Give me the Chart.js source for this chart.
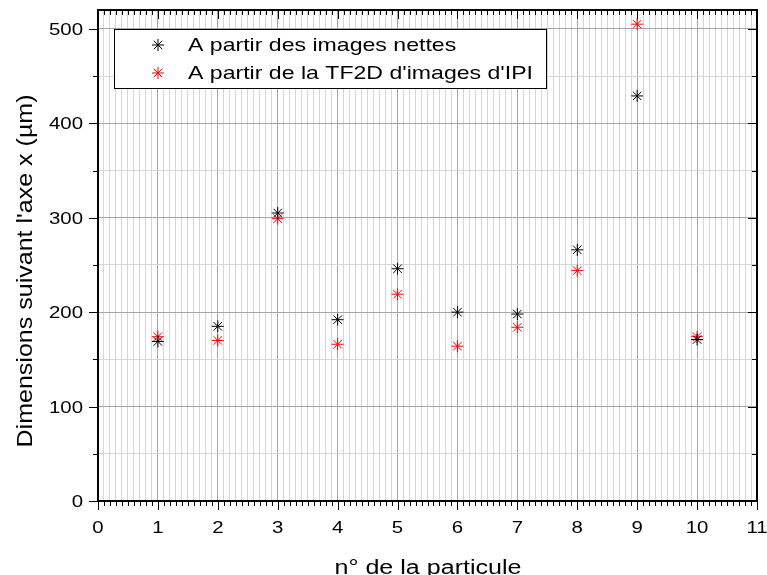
<!DOCTYPE html>
<html>
<head>
<meta charset="utf-8">
<script src="https://cdn.jsdelivr.net/npm/chart.js@4/dist/chart.umd.min.js"></script>
<style>
  html, body { margin: 0; padding: 0; background: #fff; }
</style>
</head>
<body>
<canvas id="myChart" width="767" height="575"></canvas>
<script>
const particles = [1, 2, 3, 4, 5, 6, 7, 8, 9, 10]
const netValues = [169, 185, 305, 192, 246, 200, 198, 266, 429, 171]
const ipiValues = [174, 170, 299, 166, 219, 164, 184, 244, 505, 174]
const xTickLabels = ['0', '1', '2', '3', '4', '5', '6', '7', '8', '9', '10', '11']
const yTickLabels = ['0', '100', '200', '300', '400', '500']
const seriesLabels = ["A partir des images nettes", "A partir de la TF2D d'images d'IPI"]
const seriesColors = ["#000000", "#ff0000"]
const xTitle = 'n° de la particule'
const yTitle = "Dimensions suivant l'axe x (µm)"

const chart = document.getElementById('myChart')
const FONT = "'Liberation Sans', Arial, sans-serif"
const STRETCH = 1.2

function toPoints(values) {
    let pts = []
    for (let i = 0; i < particles.length; i++) {
        pts.push({x: particles[i], y: values[i]})
    }
    return pts
}

function isWhole(v, step) {
    return Math.abs(v / step - Math.round(v / step)) < 1e-6
}

// text drawn a bit wider than the font, like the original export
function drawText(ctx, text, x, y, size, align, sx) {
    ctx.save()
    ctx.font = size + 'px ' + FONT
    ctx.textBaseline = 'alphabetic'
    ctx.fillStyle = '#000'
    const w = ctx.measureText(text).width * sx
    let left = x
    if (align === 'center') left = x - w / 2
    if (align === 'right') left = x - w
    ctx.translate(left, y)
    ctx.scale(sx, 1)
    ctx.fillText(text, 0, 0)
    ctx.restore()
}

const framePlugin = {
    id: 'frame',
    afterDraw(c) {
        const ctx = c.ctx
        const a = c.chartArea
        const xs = c.scales.x
        const ys = c.scales.y
        ctx.save()
        ctx.strokeStyle = '#000'
        ctx.lineWidth = 1
        ctx.beginPath()
        xs.ticks.forEach(t => {
            const px = Math.round(xs.getPixelForValue(t.value)) + 0.5
            const len = isWhole(t.value, 1) ? 9 : 5
            ctx.moveTo(px, a.bottom)
            ctx.lineTo(px, a.bottom + len)
            ctx.moveTo(px, a.top)
            ctx.lineTo(px, a.top + len)
        })
        ys.ticks.forEach(t => {
            const py = Math.round(ys.getPixelForValue(t.value)) + 0.5
            const len = isWhole(t.value, 100) ? 9 : 5
            ctx.moveTo(a.left - len, py)
            ctx.lineTo(a.left, py)
            ctx.moveTo(a.right - len, py)
            ctx.lineTo(a.right, py)
        })
        ctx.stroke()
        ctx.lineWidth = 2
        ctx.strokeRect(a.left, a.top, a.right - a.left, a.bottom - a.top)
        ctx.restore()

        // tick labels
        xTickLabels.forEach(l => {
            drawText(ctx, l, xs.getPixelForValue(Number(l)), 533, 17, 'center', STRETCH)
        })
        yTickLabels.forEach(l => {
            drawText(ctx, l, 83, ys.getPixelForValue(Number(l)) + 6, 17, 'right', STRETCH)
        })

        // axis titles
        ctx.save()
        ctx.font = '20px ' + FONT
        const xw = ctx.measureText(xTitle).width
        ctx.restore()
        drawText(ctx, xTitle, 428, 574, 20, 'center', 187 / xw)

        ctx.save()
        ctx.font = '22px ' + FONT
        const yw = ctx.measureText(yTitle).width
        ctx.translate(32, 271)
        ctx.rotate(-Math.PI / 2)
        drawText(ctx, yTitle, 0, 0, 22, 'center', 353 / yw)
        ctx.restore()

        // legend
        const lx = 114, ly = 29, lw = 432, lh = 59
        ctx.save()
        ctx.fillStyle = '#fff'
        ctx.fillRect(lx, ly, lw, lh)
        ctx.lineWidth = 1
        ctx.strokeStyle = '#000'
        ctx.strokeRect(lx + 0.5, ly + 0.5, lw, lh)
        ctx.font = '19px ' + FONT
        const lwid = ctx.measureText(seriesLabels[1]).width
        ctx.restore()
        const legStretch = 345 / lwid
        for (let i = 0; i < seriesLabels.length; i++) {
            ctx.save()
            ctx.strokeStyle = seriesColors[i]
            ctx.lineWidth = 1
            Chart.helpers.drawPoint(ctx, {pointStyle: 'star', radius: 6, rotation: 0, borderWidth: 1}, 158, 45 + i * 28)
            ctx.restore()
            drawText(ctx, seriesLabels[i], 188, 51 + i * 28, 19, 'left', legStretch)
        }
    }
}

new Chart(chart, {
    type: 'scatter',
    data: {
        datasets: [{
            label: seriesLabels[0],
            data: toPoints(netValues),
            pointStyle: 'star',
            pointRadius: 6,
            pointHoverRadius: 6,
            borderWidth: 1,
            borderColor: seriesColors[0],
            backgroundColor: seriesColors[0]
        }, {
            label: seriesLabels[1],
            data: toPoints(ipiValues),
            pointStyle: 'star',
            pointRadius: 6,
            pointHoverRadius: 6,
            borderWidth: 1,
            borderColor: seriesColors[1],
            backgroundColor: seriesColors[1]
        }]
    },
    options: {
        responsive: false,
        animation: false,
        layout: {
            padding: {left: 98, top: 10, right: 10, bottom: 74}
        },
        plugins: {
            legend: {display: false},
            tooltip: {enabled: false}
        },
        scales: {
            x: {
                type: 'linear',
                min: 0,
                max: 11,
                border: {display: false},
                grid: {
                    drawTicks: false,
                    color: ctx => isWhole(ctx.tick.value, 1) ? '#a6a6a6' : '#d6d6d6',
                    lineWidth: 1
                },
                ticks: {
                    stepSize: 0.1,
                    autoSkip: false,
                    includeBounds: false,
                    display: false
                }
            },
            y: {
                type: 'linear',
                min: 0,
                max: 520,
                border: {display: false},
                grid: {
                    drawTicks: false,
                    color: ctx => isWhole(ctx.tick.value, 100) ? '#a6a6a6' : '#d6d6d6',
                    lineWidth: 1
                },
                ticks: {
                    stepSize: 50,
                    autoSkip: false,
                    includeBounds: false,
                    display: false
                }
            }
        }
    },
    plugins: [framePlugin]
})
</script>
</body>
</html>
